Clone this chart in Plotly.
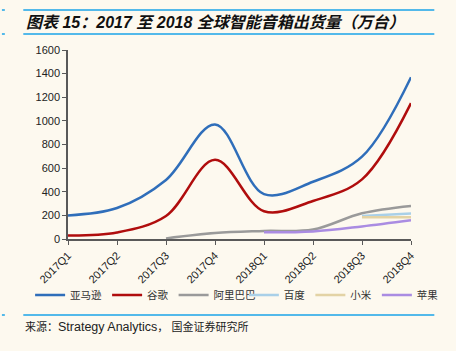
import plotly.graph_objects as go

quarters = ["2017Q1", "2017Q2", "2017Q3", "2017Q4", "2018Q1", "2018Q2", "2018Q3", "2018Q4"]
amazon = [200, 262, 500, 970, 380, 485, 697, 1370]
google = [30, 55, 195, 670, 235, 322, 505, 1150]
alibaba = [None, None, 5, 50, 68, 80, 218, 280]
baidu = [None, None, None, None, None, None, 195, 215]
xiaomi = [None, None, None, None, None, None, 185, 185]
apple = [None, None, None, None, 57, 64, 106, 158]
y_ticks = [0, 200, 400, 600, 800, 1000, 1200, 1400, 1600]

series = [
    ("亚马逊", amazon, "#2F6EBA", "legend"),
    ("谷歌", google, "#B00D0D", "legend"),
    ("阿里巴巴", alibaba, "#9A9A9A", "legend"),
    ("百度", baidu, "#A9D0E8", "legend2"),
    ("小米", xiaomi, "#E3D3A5", "legend2"),
    ("苹果", apple, "#AA8CE2", "legend2"),
]

BG = "#FDF9EF"
L, R, T, B = 68, 421, 50, 239

def px(x):
    return (x - L) / (R - L)

def py(y):
    return (B - y) / (B - T)

fig = go.Figure()
for name, vals, col, lg in series:
    fig.add_trace(go.Scatter(
        x=quarters, y=vals, name=name, mode="lines",
        line=dict(color=col, width=2.5, shape="spline", smoothing=1),
        connectgaps=False, legend=lg,
    ))

shapes = []
for yy in (10, 34, 315):
    shapes.append(dict(type="line", xref="paper", yref="paper",
                       x0=px(22), x1=px(445), y0=py(yy), y1=py(yy),
                       line=dict(color="#1AA3E8", width=1.5)))
    shapes.append(dict(type="line", xref="paper", yref="paper",
                       x0=px(0), x1=px(3), y0=py(yy), y1=py(yy),
                       line=dict(color="#1AA3E8", width=1.5)))

legend_common = dict(orientation="h", yanchor="middle", y=py(295), xanchor="left",
                     font=dict(size=10.5, family="Noto Sans CJK SC", color="#333"),
                     bgcolor="rgba(0,0,0,0)", itemwidth=30, tracegroupgap=0)

fig.update_layout(
    width=456, height=351,
    margin=dict(l=L, r=456 - R, t=T, b=351 - B),
    paper_bgcolor=BG, plot_bgcolor=BG,
    font=dict(family="Liberation Sans, Arial, Noto Sans CJK SC", size=11, color="#222"),
    showlegend=True,
    legend=dict(x=px(29), **legend_common),
    legend2=dict(x=px(249), **legend_common),
    shapes=shapes,
    annotations=[
        dict(text="<b><i>图表 15：2017 至 2018 全球智能音箱出货量（万台）</i></b>",
             xref="paper", yref="paper", x=px(23), y=py(22), xanchor="left", yanchor="middle",
             showarrow=False, font=dict(size=16, color="#111", family="Liberation Sans, Noto Sans CJK SC")),
        dict(text='来源：<span style="font-size:12.5px">Strategy Analytics</span>， 国金证券研究所',
             xref="paper", yref="paper", x=px(22), y=py(327), xanchor="left", yanchor="middle",
             showarrow=False, font=dict(size=11, color="#222", family="Liberation Sans, Noto Sans CJK SC")),
    ],
)
fig.update_xaxes(
    type="category", range=[0, 7], showgrid=False, zeroline=False,
    showline=True, linecolor="#595959", linewidth=1.5,
    ticks="outside", ticklen=4, tickcolor="#595959", tickangle=-45,
    tickfont=dict(size=11, color="#222"),
)
fig.update_yaxes(
    range=[0, 1600], tickvals=y_ticks, showgrid=False, zeroline=False,
    showline=True, linecolor="#595959", linewidth=1.5,
    ticks="outside", ticklen=4, tickcolor="#595959",
    tickfont=dict(size=11, color="#222"),
)
fig.write_html("out.html")
